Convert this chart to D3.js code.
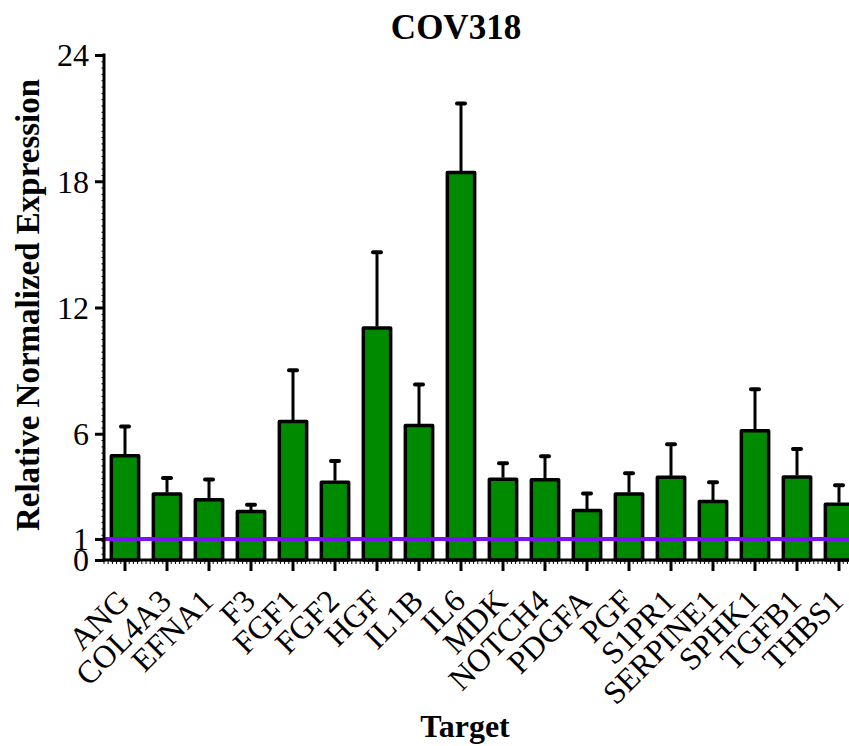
<!DOCTYPE html>
<html>
<head>
<meta charset="utf-8">
<script src="https://cdn.jsdelivr.net/npm/d3@7"></script>
<style>
  body { margin: 0; background: #fff; }
  text { font-family: "Liberation Serif", "Times New Roman", serif; fill: #000; }
</style>
</head>
<body>
<svg id="chart" width="849" height="746"></svg>
<script>
// chart values
var targets = ["ANG", "COL4A3", "EFNA1", "F3", "FGF1", "FGF2", "HGF", "IL1B", "IL6",
    "MDK", "NOTCH4", "PDGFA", "PGF", "S1PR1", "SERPINE1", "SPHK1", "TGFB1", "THBS1"];
var expression = [4.95, 3.14, 2.86, 2.30, 6.58, 3.70, 11.03, 6.39, 18.41,
    3.84, 3.81, 2.35, 3.14, 3.93, 2.78, 6.14, 3.95, 2.65];
var errorUp = [1.40, 0.76, 0.96, 0.32, 2.44, 1.01, 3.59, 1.95, 3.28,
    0.76, 1.12, 0.81, 0.98, 1.57, 0.92, 1.97, 1.33, 0.90];
var yTicks = [0, 1, 6, 12, 18, 24];
var baseline = 1;

var svg = d3.select("#chart");

var x = d3.scaleBand()
    .domain(targets)
    .range([104, 860])
    .paddingInner(0.35)
    .paddingOuter(0.175);

var y = d3.scaleLinear()
    .domain([0, 24])
    .range([560, 55]);

var green = "#008a00",
    purple = "#7b10f2";

// bars
var bars = svg.append("g").attr("class", "bars");
bars.selectAll("rect")
    .data(targets)
    .enter().append("rect")
    .attr("x", function (d) { return x(d); })
    .attr("width", x.bandwidth())
    .attr("y", function (d, i) { return y(expression[i]); })
    .attr("height", function (d, i) { return y(0) - y(expression[i]); })
    .attr("fill", green)
    .attr("stroke", "#000")
    .attr("stroke-width", 3.5)
    .attr("stroke-linejoin", "round");

// error bars (upper only)
var err = svg.append("g").attr("class", "errors");
err.selectAll("line.stem")
    .data(targets)
    .enter().append("line").attr("class", "stem")
    .attr("x1", function (d) { return x(d) + x.bandwidth() / 2; })
    .attr("x2", function (d) { return x(d) + x.bandwidth() / 2; })
    .attr("y1", function (d, i) { return y(expression[i]) - 1.5; })
    .attr("y2", function (d, i) { return y(expression[i] + errorUp[i]); })
    .attr("stroke", "#000")
    .attr("stroke-width", 3);
err.selectAll("line.cap")
    .data(targets)
    .enter().append("line").attr("class", "cap")
    .attr("x1", function (d) { return x(d) + x.bandwidth() / 2 - 4; })
    .attr("x2", function (d) { return x(d) + x.bandwidth() / 2 + 4; })
    .attr("y1", function (d, i) { return y(expression[i] + errorUp[i]); })
    .attr("y2", function (d, i) { return y(expression[i] + errorUp[i]); })
    .attr("stroke", "#000")
    .attr("stroke-width", 4)
    .attr("stroke-linecap", "round");

// reference line at 1
svg.append("line")
    .attr("x1", 104).attr("x2", 849)
    .attr("y1", y(baseline)).attr("y2", y(baseline))
    .attr("stroke", purple)
    .attr("stroke-width", 4);

// y axis
var yAxis = svg.append("g").attr("transform", "translate(104,0)");
yAxis.call(d3.axisLeft(y).tickValues(d3.range(0, 24.01, 0.3)).tickSize(2.5).tickFormat(""));
yAxis.call(function (g) {
    g.selectAll(".tick line").attr("stroke-width", 1);
    g.select(".domain").remove();
});
var yMajor = svg.append("g").attr("transform", "translate(104,0)")
    .call(d3.axisLeft(y).tickValues(yTicks).tickSize(9).tickPadding(6).tickFormat(d3.format("d")));
yMajor.select(".domain").attr("d", "M0," + (y(24) - 1.5) + "V" + (y(0) + 1.5)).attr("stroke-width", 3);
yMajor.selectAll(".tick line").attr("stroke-width", 3);
yMajor.selectAll(".tick text")
    .style("font-size", "32px")
    .attr("dy", "0.34em");

// x axis
var xAxis = svg.append("g").attr("transform", "translate(0,560)");
xAxis.append("line")
    .attr("x1", 102.5).attr("x2", 849)
    .attr("stroke", "#000").attr("stroke-width", 3);
var xMinor = d3.scaleLinear().domain([0, 1]).range([104, 860]);
xAxis.selectAll("line.minor")
    .data(d3.range(0, 1, 1 / 180))
    .enter().append("line").attr("class", "minor")
    .attr("x1", function (d) { return xMinor(d); })
    .attr("x2", function (d) { return xMinor(d); })
    .attr("y1", 0).attr("y2", 4)
    .attr("stroke", "#000").attr("stroke-width", 1);
var xMajor = svg.append("g").attr("transform", "translate(0,560)")
    .call(d3.axisBottom(x).tickSize(11).tickFormat(""));
xMajor.select(".domain").remove();
xMajor.selectAll(".tick line").attr("stroke-width", 3);

svg.append("g").selectAll("text")
    .data(targets)
    .enter().append("text")
    .attr("transform", function (d) {
        return "translate(" + (x(d) + x.bandwidth() / 2 + 6) + ",603)rotate(-45)";
    })
    .attr("text-anchor", "end")
    .style("font-size", "32px")
    .text(function (d) { return d; });

// titles
svg.append("text")
    .attr("x", 456).attr("y", 39)
    .attr("text-anchor", "middle")
    .style("font-size", "35px").style("font-weight", "bold")
    .text("COV318");

svg.append("text")
    .attr("transform", "translate(39,305)rotate(-90)")
    .attr("text-anchor", "middle")
    .style("font-size", "33px").style("font-weight", "bold")
    .text("Relative Normalized Expression");

svg.append("text")
    .attr("x", 465).attr("y", 737)
    .attr("text-anchor", "middle")
    .style("font-size", "32px").style("font-weight", "bold")
    .text("Target");
</script>
</body>
</html>
